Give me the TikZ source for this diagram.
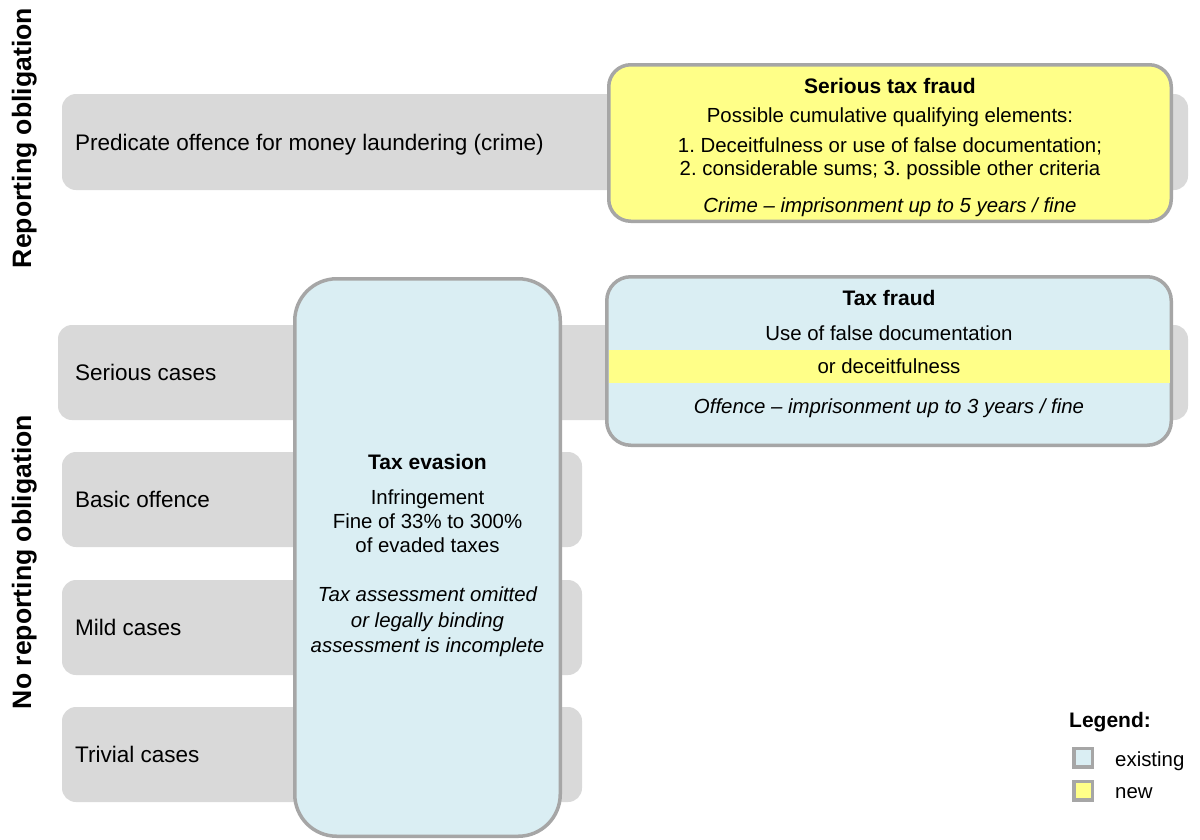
\documentclass[tikz,border=0pt]{standalone}
\usepackage{fontspec}
\setmainfont{Liberation Sans}
\definecolor{rowgray}{HTML}{D9D9D9}
\definecolor{edgegray}{HTML}{A6A6A6}
\definecolor{oldblue}{HTML}{DAEEF3}
\definecolor{newyellow}{HTML}{FFFF88}
\newcommand\setfs[1]{\fontsize{#1}{#1}\selectfont}
\frenchspacing
\begin{document}
\begin{tikzpicture}[x=1pt,y=-1pt,
  rowband/.style={fill=rowgray, rounded corners=14pt, inner sep=0pt, draw=none},
  casebox/.style={draw=edgegray, line width=3.5pt, inner sep=0pt},
  rowlabel/.style={inner sep=0pt, anchor=base west, font=\setfs{22.5}},
  sidelabel/.style={inner sep=0pt, anchor=base, rotate=90, font=\setfs{26.6}\bfseries},
  title/.style={inner sep=0pt, anchor=base, font=\setfs{21}\bfseries},
  body/.style={inner sep=0pt, anchor=base, font=\setfs{20.4}},
  note/.style={inner sep=0pt, anchor=base, font=\setfs{20.4}\itshape},
  keybox/.style={draw=edgegray, line width=3.5pt, minimum width=18.5pt, minimum height=18.5pt, inner sep=0pt},
  keytext/.style={inner sep=0pt, anchor=base west, font=\setfs{20.4}}]
\useasboundingbox[fill=white] (0,0) rectangle (1200,839);

% grey row bands
\node[rowband, minimum width=1126pt, minimum height=96pt] (rowPred) at (625,142) {};
\node[rowband, minimum width=1130pt, minimum height=95pt] (rowSerious) at (623,372.5) {};
\node[rowband, minimum width=520pt, minimum height=95pt] (rowBasic) at (322,499.5) {};
\node[rowband, minimum width=520pt, minimum height=95pt] (rowMild) at (322,627.5) {};
\node[rowband, minimum width=520pt, minimum height=95pt] (rowTrivial) at (322,754.5) {};

% row labels
\node[rowlabel] (lblPred) at (75,150) {Predicate offence for money laundering (crime)};
\node[rowlabel] (lblSerious) at (75,380.5) {Serious cases};
\node[rowlabel] (lblBasic) at (75,507.5) {Basic offence};
\node[rowlabel] (lblMild) at (75,635.5) {Mild cases};
\node[rowlabel] (lblTrivial) at (75,762.5) {Trivial cases};

% side labels
\node[sidelabel] (sideRep) at (31,138) {Reporting obligation};
\node[sidelabel] (sideNoRep) at (31,562) {No reporting obligation};

% serious tax fraud
\node[casebox, fill=newyellow, rounded corners=22pt, minimum width=562.5pt, minimum height=156.5pt] (serious) at (890,143) {};
\node[title] (seriousT) at (890,93) {Serious tax fraud};
\node[body] (seriousA) at (890,122) {Possible cumulative qualifying elements:};
\node[body] (seriousB) at (890,152) {1. Deceitfulness or use of false documentation;};
\node[body] (seriousC) at (890,175) {2. considerable sums; 3. possible other criteria};
\node[note] (seriousD) at (890,212) {Crime – imprisonment up to 5 years / fine};

% tax fraud
\node[casebox, fill=oldblue, rounded corners=24pt, minimum width=564.5pt, minimum height=168.5pt] (fraud) at (889,361) {};
\node[fill=newyellow, inner sep=0pt, minimum width=561pt, minimum height=33pt] (fraudBand) at (889,366.5) {};
\node[title] (fraudT) at (889,305) {Tax fraud};
\node[body] (fraudA) at (889,340) {Use of false documentation};
\node[body] (fraudB) at (889,373) {or deceitfulness};
\node[note] (fraudC) at (889,413) {Offence – imprisonment up to 3 years / fine};

% tax evasion
\node[casebox, fill=oldblue, rounded corners=42pt, minimum width=265.5pt, minimum height=557.5pt] (evasion) at (427.5,557.5) {};
\node[title] (evasionT) at (427.5,469) {Tax evasion};
\node[body] (evasionA) at (427.5,504) {Infringement};
\node[body] (evasionB) at (427.5,528) {Fine of 33\% to 300\%};
\node[body] (evasionC) at (427.5,552) {of evaded taxes};
\node[note] (evasionD) at (427.5,601) {Tax assessment omitted};
\node[note] (evasionE) at (427.5,627) {or legally binding};
\node[note] (evasionF) at (427.5,652) {assessment is incomplete};

% legend
\node[inner sep=0pt, anchor=base west, font=\setfs{21}\bfseries] (legendT) at (1069,727) {Legend:};
\node[keybox, fill=oldblue] (keyOld) at (1083,757.5) {};
\node[keytext] (keyOldT) at (1115,766) {existing};
\node[keybox, fill=newyellow] (keyNew) at (1083,790.5) {};
\node[keytext] (keyNewT) at (1115,798) {new};
\end{tikzpicture}
\end{document}
